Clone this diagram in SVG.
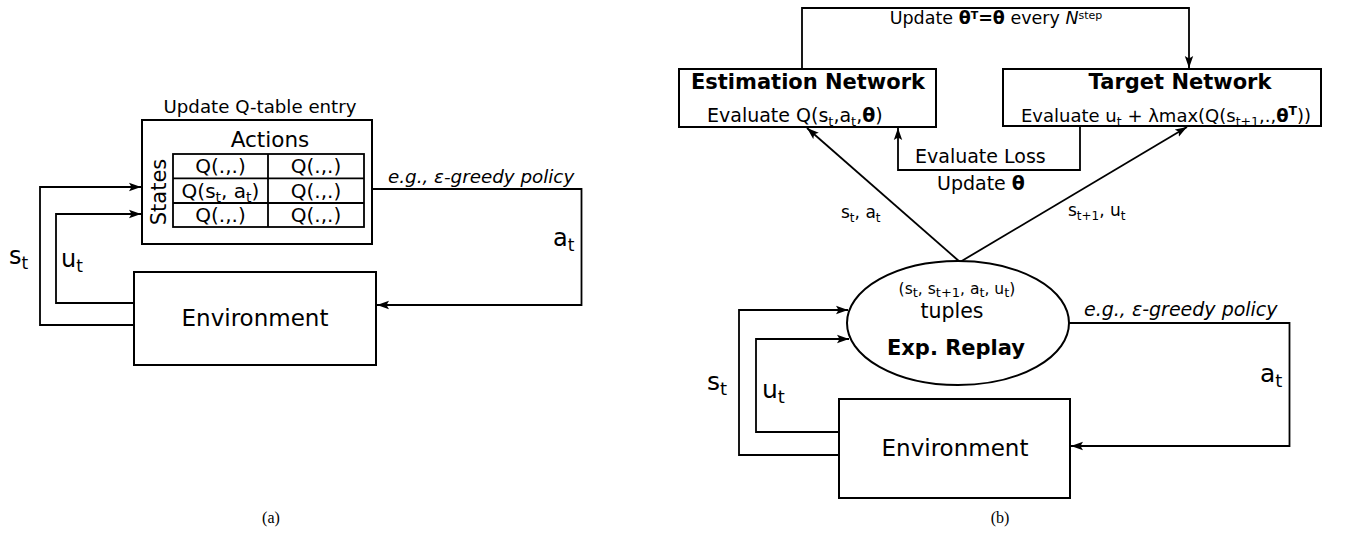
<svg xmlns="http://www.w3.org/2000/svg" width="1356" height="539" viewBox="0 0 1356 539">
<style>
text{font-family:"DejaVu Sans","Liberation Sans",sans-serif;fill:#000}
.ln{fill:none;stroke:#000;stroke-width:1.8}
.arr{marker-end:url(#ah)}
.box{fill:#fff;stroke:#000;stroke-width:2}
.cell{fill:none;stroke:#000;stroke-width:1.8}
.b{font-weight:bold}
.i{font-style:italic}
.cap{font-family:"Liberation Serif",serif;font-size:16px}
</style>
<defs>
<marker id="ah" markerUnits="userSpaceOnUse" markerWidth="14" markerHeight="10" refX="12" refY="5" orient="auto">
<path d="M0,0.8 L12,5 L0,9.2 L2.5,5 z" fill="#000"/>
</marker>
</defs>

<g id="connectors">
<path class="ln arr" d="M134,325 H40 V187 H141"/>
<path class="ln arr" d="M134,303 H56 V214 H141"/>
<path class="ln arr" d="M372,189 H581.5 V305 H377"/>
<path class="ln arr" d="M802,69 V8 H1189 V68"/>
<path class="ln arr" d="M1080,126 V170 H898 V128"/>
<path class="ln arr" d="M960,262 L807,128"/>
<path class="ln arr" d="M960,262 L1187,127"/>
<path class="ln arr" d="M839,455 H739 V310 H848"/>
<path class="ln arr" d="M839,432 H756 V339 H849"/>
<path class="ln arr" d="M1069,323 H1289.5 V446 H1071"/>
</g>

<g id="labels">
<text x="260" y="113" font-size="18.2" text-anchor="middle">Update Q-table entry</text>
<text x="388" y="183" font-size="18.3" class="i">e.g., ε-greedy policy</text>
<text x="553" y="246" font-size="24">a<tspan font-size="17" dy="5">t</tspan></text>
<text x="9" y="264" font-size="24">s<tspan font-size="17" dy="5">t</tspan></text>
<text x="61" y="267" font-size="24">u<tspan font-size="17" dy="5">t</tspan></text>
<text x="996" y="24" font-size="17.5" text-anchor="middle">Update <tspan class="b">θ</tspan><tspan class="b" font-size="11" dy="-5.5">T</tspan><tspan class="b" dy="5.5">=θ</tspan> every <tspan class="i">N</tspan><tspan font-size="11" dy="-5.5">step</tspan></text>
<text x="915" y="163" font-size="19">Evaluate Loss</text>
<text x="937" y="190" font-size="19">Update <tspan class="b">θ</tspan></text>
<text x="841" y="218" font-size="17">s<tspan font-size="12" dy="4">t</tspan><tspan dy="-4">, a</tspan><tspan font-size="12" dy="4">t</tspan></text>
<text x="1068" y="216" font-size="17">s<tspan font-size="12" dy="4">t+1</tspan><tspan dy="-4">, u</tspan><tspan font-size="12" dy="4">t</tspan></text>
<text x="1084" y="316" font-size="19" class="i">e.g., ε-greedy policy</text>
<text x="1260" y="382" font-size="25">a<tspan font-size="18" dy="5">t</tspan></text>
<text x="707" y="390" font-size="25">s<tspan font-size="18" dy="5">t</tspan></text>
<text x="762" y="398" font-size="25">u<tspan font-size="18" dy="5">t</tspan></text>
<text x="271" y="523" class="cap" text-anchor="middle">(a)</text>
<text x="1000" y="523" class="cap" text-anchor="middle">(b)</text>
</g>

<g id="qtable">
<rect class="box" x="142" y="120" width="230" height="124"/>
<text x="270" y="147" font-size="21.5" text-anchor="middle">Actions</text>
<text transform="translate(166,192) rotate(-90)" font-size="21" text-anchor="middle">States</text>
<rect class="cell" x="173" y="154" width="191" height="73"/>
<path class="cell" d="M268,154 V227 M173,178.3 H364 M173,203 H364"/>
<text x="220.5" y="173" font-size="20" text-anchor="middle">Q(.,.)</text>
<text x="316" y="173" font-size="20" text-anchor="middle">Q(.,.)</text>
<text x="220.5" y="197.5" font-size="20" text-anchor="middle">Q(s<tspan font-size="14" dy="4">t</tspan><tspan dy="-4">, a</tspan><tspan font-size="14" dy="4">t</tspan><tspan dy="-4">)</tspan></text>
<text x="316" y="197.5" font-size="20" text-anchor="middle">Q(.,.)</text>
<text x="220.5" y="222" font-size="20" text-anchor="middle">Q(.,.)</text>
<text x="316" y="222" font-size="20" text-anchor="middle">Q(.,.)</text>
</g>

<g id="environment-a">
<rect class="box" x="134" y="272" width="242" height="93"/>
<text x="255" y="326" font-size="23" text-anchor="middle">Environment</text>
</g>

<g id="estimation-network">
<rect class="box" x="679" y="69" width="257" height="58"/>
<text x="808" y="89" font-size="21" class="b" text-anchor="middle">Estimation Network</text>
<text x="707" y="121.5" font-size="19">Evaluate Q(s<tspan font-size="13" dy="4">t</tspan><tspan dy="-4">,a</tspan><tspan font-size="13" dy="4">t</tspan><tspan dy="-4">,</tspan><tspan class="b">θ</tspan>)</text>
</g>

<g id="target-network">
<rect class="box" x="1003" y="69" width="318" height="57"/>
<text x="1180" y="89" font-size="21" class="b" text-anchor="middle">Target Network</text>
<text x="1021" y="121.5" font-size="18">Evaluate u<tspan font-size="12.5" dy="4">t</tspan><tspan dy="-4"> + λmax(Q(s</tspan><tspan font-size="12.5" dy="4">t+1</tspan><tspan dy="-4">,.,</tspan><tspan class="b">θ</tspan><tspan class="b" font-size="12.5" dy="-7">T</tspan><tspan dy="7">))</tspan></text>
</g>

<g id="exp-replay">
<ellipse cx="958" cy="323" rx="111" ry="62" fill="#fff" stroke="#000" stroke-width="2"/>
<text x="957" y="294" font-size="15.5" text-anchor="middle">(s<tspan font-size="13" dy="2.5">t</tspan><tspan dy="-2.5">, s</tspan><tspan font-size="13" dy="2.5">t+1</tspan><tspan dy="-2.5">, a</tspan><tspan font-size="13" dy="2.5">t</tspan><tspan dy="-2.5">, u</tspan><tspan font-size="13" dy="2.5">t</tspan><tspan dy="-2.5">)</tspan></text>
<text x="952" y="318" font-size="20.5" text-anchor="middle">tuples</text>
<text x="956" y="355" font-size="21" class="b" text-anchor="middle">Exp. Replay</text>
</g>

<g id="environment-b">
<rect class="box" x="839" y="399" width="231" height="99"/>
<text x="955" y="456" font-size="23" text-anchor="middle">Environment</text>
</g>
</svg>
